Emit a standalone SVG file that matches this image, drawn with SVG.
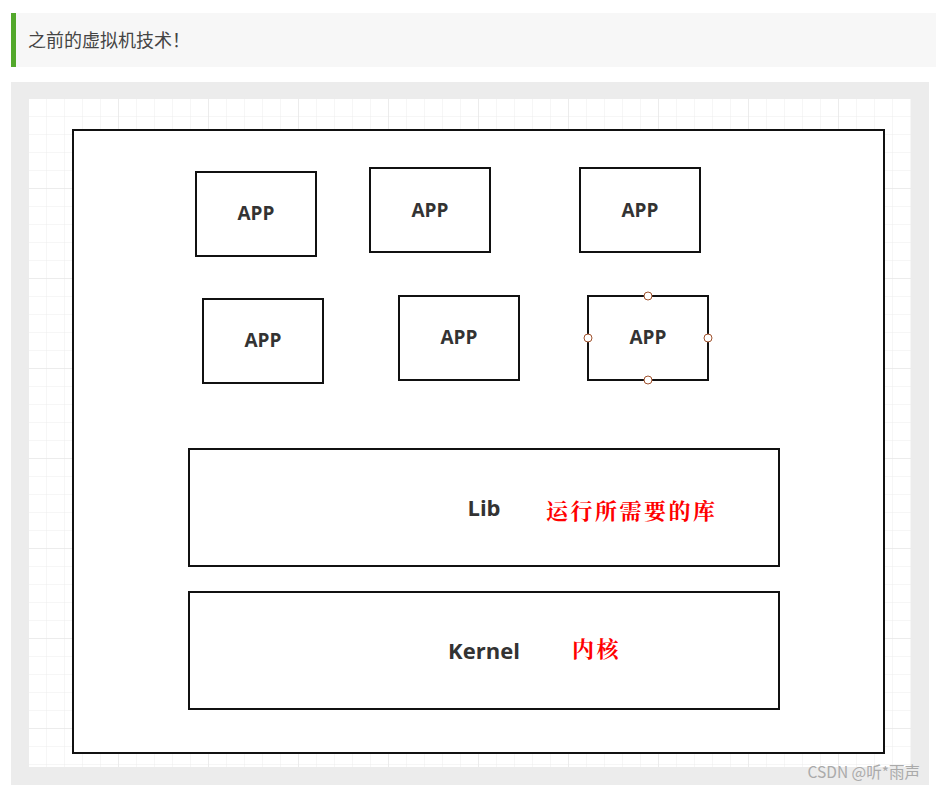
<svg xmlns="http://www.w3.org/2000/svg" width="936" height="790" viewBox="0 0 936 790">
<defs>
<pattern id="g" x="29" y="99" width="18" height="18" patternUnits="userSpaceOnUse"><path d="M18 0V18H0" fill="none" stroke="#ececec" stroke-width="1"/></pattern>
<pattern id="G" x="29" y="99" width="90" height="90" patternUnits="userSpaceOnUse"><path d="M90 0V90H0" fill="none" stroke="#e2e2e2" stroke-width="1"/></pattern>
</defs>
<style>
.b{fill:#fff;stroke:#111;stroke-width:2}
.t{font-family:"Open Sans","Noto Sans",sans-serif;font-weight:bold;font-size:19px;fill:#333;text-anchor:middle}
.t2{font-size:22px}
.r{font-family:"Noto Serif CJK SC","Noto Sans CJK SC",serif;font-weight:bold;font-size:22px;letter-spacing:2.5px;fill:#f00}
.h{fill:#fff;stroke:#a0522d;stroke-width:1}
</style>
<rect width="936" height="790" fill="#fff"/>
<rect x="11" y="13" width="925" height="54" fill="#f7f7f7"/>
<rect x="11" y="13" width="5" height="54" fill="#52a82b"/>
<text x="28" y="47" font-family="Noto Sans CJK SC,sans-serif" font-size="18" fill="#444">之前的虚拟机技术！</text>
<rect x="11" y="82" width="918" height="703" fill="#ececec"/>
<rect x="29" y="99" width="882" height="668" fill="#fff"/>
<rect x="29" y="99" width="882" height="668" fill="url(#g)"/>
<rect x="29" y="99" width="882" height="668" fill="url(#G)"/>
<g id="host"><rect class="b" x="73" y="130" width="811" height="623"/></g>
<g id="app1"><rect class="b" x="196" y="172" width="120" height="84"/><text class="t" x="256" y="220">APP</text></g>
<g id="app2"><rect class="b" x="370" y="168" width="120" height="84"/><text class="t" x="430" y="217">APP</text></g>
<g id="app3"><rect class="b" x="580" y="168" width="120" height="84"/><text class="t" x="640" y="217">APP</text></g>
<g id="app4"><rect class="b" x="203" y="299" width="120" height="84"/><text class="t" x="263" y="347">APP</text></g>
<g id="app5"><rect class="b" x="399" y="296" width="120" height="84"/><text class="t" x="459" y="344">APP</text></g>
<g id="app6"><rect class="b" x="588" y="296" width="120" height="84"/><text class="t" x="648" y="344">APP</text>
<circle class="h" cx="648" cy="296" r="4"/><circle class="h" cx="648" cy="380" r="4"/><circle class="h" cx="588" cy="338" r="4"/><circle class="h" cx="708" cy="338" r="4"/></g>
<g id="lib"><rect class="b" x="189" y="449" width="590" height="117"/><text class="t t2" x="484" y="516">Lib</text><text class="r" x="546" y="519">运行所需要的库</text></g>
<g id="kernel"><rect class="b" x="189" y="592" width="590" height="117"/><text class="t t2" x="484" y="659">Kernel</text><text class="r" x="572" y="657">内核</text></g>
<g id="connectors"/>
<text x="920" y="778" text-anchor="end" font-family="Noto Sans CJK SC,sans-serif" font-size="15.5" fill="#aaa">CSDN @听*雨声</text>
</svg>
